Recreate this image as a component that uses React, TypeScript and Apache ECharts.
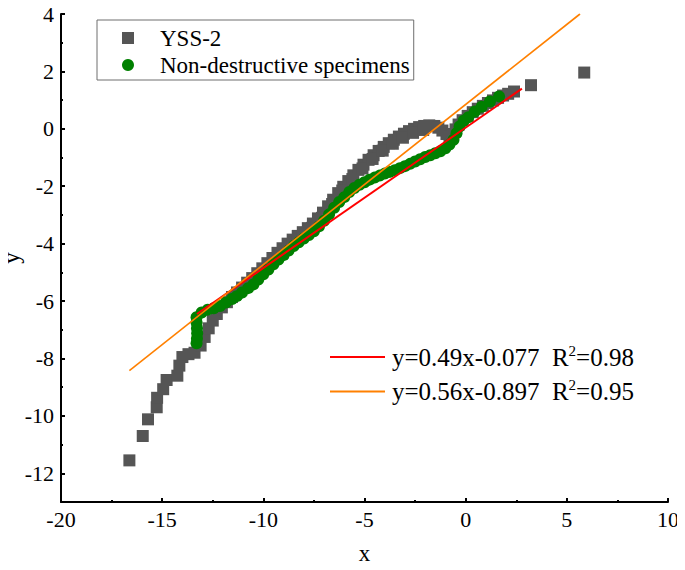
import React, { useEffect, useRef } from "react";
import * as echarts from "echarts";

const SERIF = "'Liberation Serif', 'Times New Roman', serif";

const xTicks = [-20, -15, -10, -5, 0, 5, 10];
const yMajorTicks = [-12, -10, -8, -6, -4, -2, 0, 2, 4];
const yMinorTicks = [-13, -11, -9, -7, -5, -3, -1, 1, 3];

const yssName = "YSS-2";
const ndName = "Non-destructive specimens";
const fit1Name = "y=0.49x-0.077  R2=0.98";
const fit2Name = "y=0.56x-0.897  R2=0.95";

// YSS-2 (grey squares)
const yssPoints: [number, number][] = [
  [-16.62, -11.55], [-15.96, -10.7], [-15.7, -10.12], [-15.27, -9.7], [-15.25, -9.37],
  [-14.95, -9.07], [-14.78, -8.75], [-14.25, -8.6], [-14.15, -8.25], [-14.0, -7.95],
  [-13.7, -7.85], [-13.4, -7.8], [-13.1, -7.55], [-12.9, -7.25], [-12.7, -6.95],
  [-12.5, -6.68], [-12.3, -6.45], [-12.05, -6.22], [-11.8, -6.04],
  [-11.55, -5.86], [-11.3, -5.7], [-11.05, -5.53], [-10.8, -5.36],
  [-10.55, -5.2], [-10.3, -5.03], [-10.05, -4.86], [-9.8, -4.68], [-9.55, -4.5],
  [-9.3, -4.32], [-9.05, -4.16], [-8.8, -4.0], [-8.55, -3.86], [-8.3, -3.73],
  [-8.05, -3.6], [-7.8, -3.46], [-7.55, -3.3], [-7.3, -3.12], [-7.05, -2.92],
  [-6.8, -2.7], [-6.55, -2.47], [-6.3, -2.24], [-6.05, -2.02], [-5.8, -1.82],
  [-5.55, -1.62], [-5.3, -1.43], [-5.05, -1.25], [-4.8, -1.08], [-4.55, -0.92],
  [-4.3, -0.77], [-4.05, -0.63], [-3.8, -0.5], [-3.55, -0.38], [-3.3, -0.27],
  [-3.05, -0.17], [-2.8, -0.08], [-2.55, 0.0], [-2.3, 0.06], [-2.05, 0.1],
  [-1.8, 0.12], [-1.55, 0.1], [-1.35, 0.04], [-1.15, -0.06], [-0.95, -0.18],
  [-0.8, -0.28], [-0.65, -0.2], [-0.5, -0.02], [-0.35, 0.15], [-0.15, 0.3],
  [0.1, 0.45], [0.35, 0.58], [0.6, 0.7], [0.85, 0.8], [1.1, 0.9],
  [1.35, 0.99], [1.6, 1.08], [1.85, 1.16], [2.1, 1.22], [2.39, 1.3],
  [3.23, 1.52], [5.86, 1.96],
  // lower edge of the dense band
  [-7.6, -3.45], [-7.1, -3.1], [-6.6, -2.62], [-6.1, -2.15], [-5.6, -1.75],
  [-5.1, -1.38], [-4.6, -1.05], [-4.1, -0.76], [-3.6, -0.52], [-3.1, -0.31],
  [-2.6, -0.14], [-2.1, -0.04],
];

// Non-destructive specimens (green circles)
const ndPoints: [number, number][] = [
  [-13.3, -6.56], [-13.3, -6.75], [-13.28, -6.95], [-13.27, -7.12], [-13.28, -7.3],
  [-13.3, -7.47], [-13.05, -6.4], [-12.75, -6.3], [-12.45, -6.25], [-12.14, -6.17],
  [-11.85, -6.05], [-11.55, -5.93], [-11.31, -5.83], [-11.05, -5.7], [-10.75, -5.55],
  [-10.49, -5.42], [-10.25, -5.25], [-10.0, -5.07], [-9.75, -4.9], [-9.5, -4.72],
  [-9.25, -4.55], [-9.0, -4.4], [-8.75, -4.24], [-8.5, -4.08], [-8.25, -3.95],
  [-8.0, -3.82], [-7.75, -3.7], [-7.5, -3.57], [-7.25, -3.4], [-7.0, -3.2],
  [-6.75, -2.98], [-6.5, -2.75], [-6.25, -2.55], [-6.0, -2.38], [-5.75, -2.2],
  [-5.5, -2.06], [-5.25, -1.95], [-5.0, -1.86], [-4.75, -1.77], [-4.5, -1.7],
  [-4.25, -1.63], [-4.0, -1.56], [-3.75, -1.5], [-3.5, -1.44], [-3.25, -1.37],
  [-3.0, -1.3], [-2.75, -1.22], [-2.5, -1.14], [-2.25, -1.06], [-2.0, -0.98],
  [-1.75, -0.92], [-1.5, -0.85], [-1.25, -0.78], [-1.0, -0.68], [-0.8, -0.55],
  [-0.6, -0.38], [-0.45, -0.15], [-0.3, 0.08], [-0.1, 0.28], [0.13, 0.4],
  [0.45, 0.6], [0.79, 0.77], [1.2, 0.95], [1.65, 1.13],
];

// fitted lines as drawn
const fit1Points: [number, number][] = [[-13.28, -6.45], [2.78, 1.4]];
const fit2Points: [number, number][] = [[-16.62, -8.42], [5.65, 4.0]];

export default function App() {
  const ref = useRef<HTMLDivElement>(null);
  useEffect(() => {
    if (!ref.current) return;
    const chart = echarts.init(ref.current, null, { renderer: "svg" });
    const axisLine = { show: true, onZero: false, lineStyle: { color: "#000", width: 2 } };
    const eq = (a: string, b: string) =>
      `{a|${a}\u00a0\u00a0R}{s|2}{a|=${b}}`;
    chart.setOption({
      animation: false,
      backgroundColor: "#fff",
      grid: {
        left: 61,
        right: 17,
        top: 14,
        bottom: 68,
        containLabel: false,
        outerBoundsMode: "none",
      },
      legend: [
        {
          data: [yssName, ndName],
          orient: "vertical",
          left: 97,
          top: 20,
          itemWidth: 12,
          itemHeight: 12,
          itemGap: 3,
          borderColor: "#6e6e6e",
          borderWidth: 1,
          padding: [6, 4, 3, 25],
          textStyle: {
            fontFamily: SERIF,
            fontSize: 23,
            lineHeight: 24,
            color: "#000",
            padding: [0, 0, 0, 21],
          },
        },
        {
          data: [fit1Name, fit2Name],
          orient: "vertical",
          left: 330,
          top: 343,
          icon: "rect",
          itemWidth: 55,
          itemHeight: 2,
          itemGap: 8,
          padding: 0,
          formatter: (name: string) =>
            name === fit1Name ? eq("y=0.49x-0.077", "0.98") : eq("y=0.56x-0.897", "0.95"),
          textStyle: {
            fontFamily: SERIF,
            fontSize: 25,
            color: "#000",
            padding: [0, 0, 0, 2],
            rich: {
              a: { fontFamily: SERIF, fontSize: 25, lineHeight: 28, color: "#000" },
              s: { fontFamily: SERIF, fontSize: 15, lineHeight: 15, verticalAlign: "top", color: "#000" },
            },
          },
        },
      ],
      xAxis: {
        type: "value",
        min: -20,
        max: 10,
        interval: 5,
        name: "x",
        nameLocation: "middle",
        nameGap: 40,
        nameTextStyle: { fontFamily: SERIF, fontSize: 23, color: "#000" },
        axisLine,
        axisTick: { show: true, inside: true, length: 4, lineStyle: { color: "#000", width: 2 } },
        minorTick: { show: true, splitNumber: 2, length: 2, lineStyle: { color: "#000", width: 2 } },
        axisLabel: {
          fontFamily: SERIF,
          fontSize: 22,
          color: "#000",
          margin: 6,
          customValues: xTicks,
        },
        splitLine: { show: false },
      },
      yAxis: [
        {
          type: "value",
          min: -13,
          max: 4,
          position: "left",
          name: "y",
          nameLocation: "middle",
          nameGap: 38,
          nameMoveOverlap: false,
          nameTextStyle: { fontFamily: SERIF, fontSize: 23, color: "#000" },
          axisLine,
          axisTick: {
            show: true,
            inside: true,
            length: 4,
            customValues: yMajorTicks,
            lineStyle: { color: "#000", width: 2 },
          },
          axisLabel: {
            fontFamily: SERIF,
            fontSize: 22,
            color: "#000",
            margin: 7,
            customValues: yMajorTicks,
          },
          splitLine: { show: false },
        },
        {
          type: "value",
          min: -13,
          max: 4,
          position: "left",
          axisLine: { show: false, onZero: false },
          axisTick: {
            show: true,
            inside: true,
            length: 2,
            customValues: yMinorTicks,
            lineStyle: { color: "#000", width: 2 },
          },
          axisLabel: { show: false },
          splitLine: { show: false },
        },
      ],
      series: [
        {
          name: yssName,
          type: "scatter",
          symbol: "rect",
          symbolSize: 12,
          itemStyle: { color: "#555555", opacity: 1 },
          data: yssPoints,
          z: 2,
        },
        {
          name: ndName,
          type: "scatter",
          symbol: "circle",
          symbolSize: 12,
          itemStyle: { color: "#008000", opacity: 1 },
          data: ndPoints,
          z: 3,
        },
        {
          name: fit1Name,
          type: "line",
          showSymbol: false,
          symbol: "none",
          lineStyle: { color: "#ff0000", width: 2 },
          itemStyle: { color: "#ff0000" },
          data: fit1Points,
          z: 4,
        },
        {
          name: fit2Name,
          type: "line",
          showSymbol: false,
          symbol: "none",
          lineStyle: { color: "#ff8000", width: 1.6 },
          itemStyle: { color: "#ff8000" },
          data: fit2Points,
          z: 5,
        },
      ],
    });
    return () => chart.dispose();
  }, []);
  return <div ref={ref} style={{ width: 685, height: 570, margin: -8 }} />;
}
